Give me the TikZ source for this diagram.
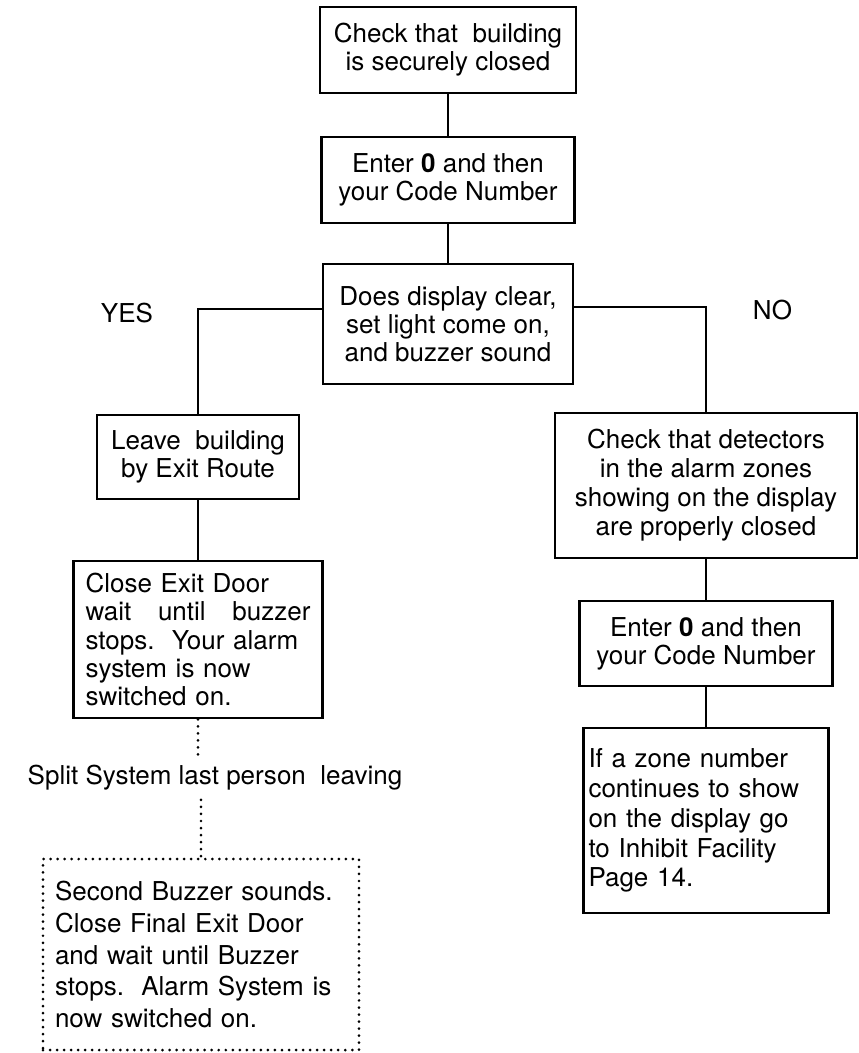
\documentclass[tikz,border=0pt]{standalone}
\usepackage{fontspec}
\setmainfont{TeX Gyre Heros}

\begin{document}
\begin{tikzpicture}[
  font=\fontsize{14.8}{16}\selectfont,
  box/.style={draw, line width=1.5pt, align=center, inner sep=0pt},
  leftbox/.style={box, align=left},
  link/.style={line width=1.2pt},
  dotline/.style={line width=1.7pt, line cap=round, dash pattern=on 0pt off 4pt}
]
\useasboundingbox (0,0) rectangle (17.18,-21.06);
% main column
\node[box, minimum width=5.12cm, minimum height=1.72cm] (check) at (8.96,-1.0) {Check that\ \ building\\is securely closed};
\node[box, minimum width=5.06cm, minimum height=1.72cm] (enter) at (8.96,-3.6) {Enter \textbf{0} and then\\your Code Number};
\node[box, minimum width=5.0cm, minimum height=2.4cm] (query) at (8.96,-6.48) {Does display clear,\\set light come on,\\and buzzer sound};
\node (yes) at (2.54,-6.26) {YES};
\node (no) at (15.45,-6.2) {NO};
% yes branch
\node[box, minimum width=4.04cm, minimum height=1.68cm] (leave) at (3.96,-9.14) {Leave\ \ building\\by Exit Route};
\node[leftbox, text width=4.5cm, inner xsep=0.24cm, minimum height=3.14cm] (close) at (3.96,-12.79) {Close Exit Door\\wait\hfill until\hfill buzzer\hspace*{0.2cm}\\stops.\ \ Your alarm\\system is now\\switched on.};
\node[inner sep=0.18cm] (split) at (4.3,-15.56) {Split System last person\ \ leaving};
\node[leftbox, dotline, text width=5.84cm, inner xsep=0.24cm, minimum height=3.82cm, font=\fontsize{14.8}{18}\selectfont] (last) at (4.02,-19.09) {Second Buzzer sounds.\\Close Final Exit Door\\and wait until Buzzer\\stops.\ \ Alarm System is\\now switched on.};
% no branch
\node[box, minimum width=6.04cm, minimum height=2.9cm, font=\fontsize{14.8}{16.5}\selectfont] (detect) at (14.12,-9.71) {Check that detectors\\in the alarm zones\\showing on the display\\are properly closed};
\node[box, minimum width=5.06cm, minimum height=1.7cm] (enter2) at (14.12,-12.87) {Enter \textbf{0} and then\\your Code Number};
\node[leftbox, text width=4.7cm, inner xsep=0.1cm, minimum height=3.7cm, font=\fontsize{14.8}{17}\selectfont] (inhibit) at (14.12,-16.41) {If a zone number\\continues to show\\on the display go\\to Inhibit Facility\\Page 14.};

\draw[link] (check) -- (enter);
\draw[link] (enter) -- (query);
\draw[link] ([yshift=0.3cm]query.west) -| (leave.north);
\draw[link] ([yshift=0.34cm]query.east) -| (detect.north);
\draw[link] (leave) -- (close);
\draw[link] (detect) -- (enter2);
\draw[link] (enter2) -- (inhibit);
\draw[dotline] (close.south) -- (close.south |- split.north);
\draw[dotline] (split.south -| last.north) -- (last.north);
\end{tikzpicture}
\end{document}
